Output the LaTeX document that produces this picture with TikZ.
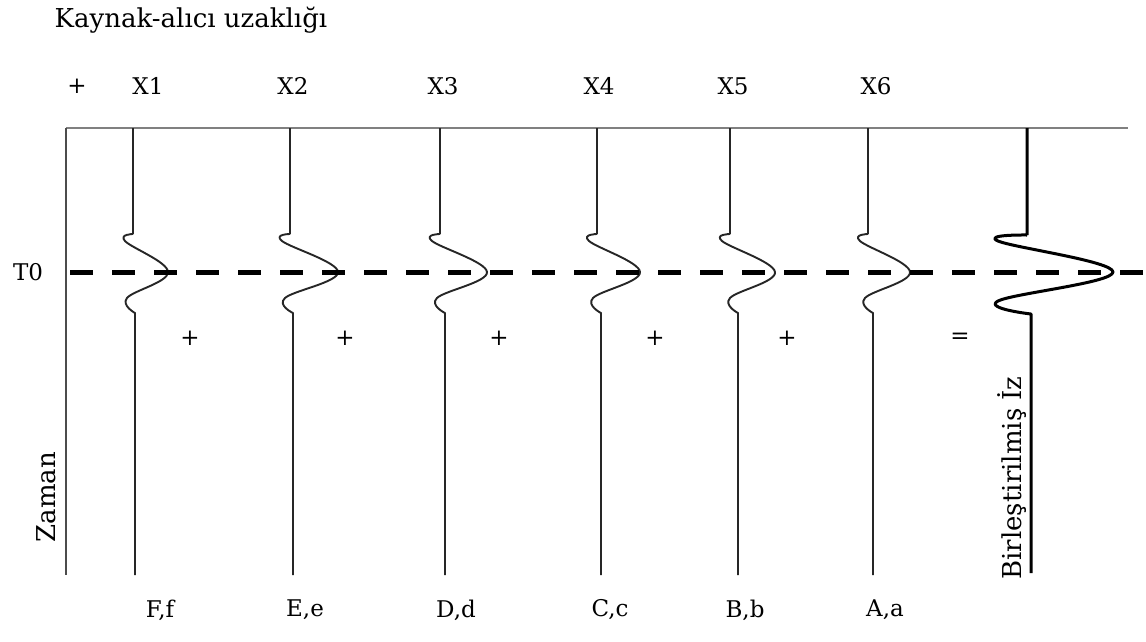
\documentclass[tikz,border=0pt]{standalone}
\usepackage{fontspec}
\setmainfont{DejaVu Serif}
\begin{document}
\begin{tikzpicture}[x=1pt,y=-1pt,
  lbl/.style={inner sep=0pt, font=\fontsize{23}{26}\selectfont},
  rlbl/.style={inner sep=0pt, rotate=90, font=\fontsize{26}{29}\selectfont},
  ttl/.style={inner sep=0pt, font=\fontsize{26}{29}\selectfont},
  trace/.style={line width=1.9pt, draw=black!85, line join=round},
  sumtrace/.style={line width=3pt, draw=black, line join=round},
  axis/.style={line width=2.2pt, draw=black!50},
  taxis/.style={line width=1.9pt, draw=black!70},
  t0line/.style={line width=5pt, draw=black, dash pattern=on 23pt off 19pt}]
\useasboundingbox (0,0) rectangle (1146,641);
\fill[white] (0,0) rectangle (1146,641);
% title and labels
\node[ttl] (title) at (191,20) {Kaynak-alıcı uzaklığı};
\node[lbl] (plus0) at (77,86) {+};
\node[lbl] (x1) at (148,86) {X1};
\node[lbl] (x2) at (293,86) {X2};
\node[lbl] (x3) at (443,86) {X3};
\node[lbl] (x4) at (599,86) {X4};
\node[lbl] (x5) at (733,86) {X5};
\node[lbl] (x6) at (876,86) {X6};
\node[lbl] (t0) at (28,272) {T0};
\node[rlbl] (zaman) at (46,497) {Zaman};
\node[rlbl] (birl) at (1012,478) {Birleştirilmiş İz};
% plus signs between traces
\foreach \px/\nm in {190/p1,345/p2,499/p3,655/p4,787/p5}
  \node[lbl] (\nm) at (\px,338) {+};
\node[lbl] (eq) at (960,338) {=};
% bottom labels
\node[lbl] (ff) at (160,610) {F,f};
\node[lbl] (ee) at (305,610) {E,e};
\node[lbl] (dd) at (456,610) {D,d};
\node[lbl] (cc) at (610,610) {C,c};
\node[lbl] (bb) at (745,610) {B,b};
\node[lbl] (aa) at (885,610) {A,a};
% axes
\coordinate (o) at (66,128);
\coordinate (e) at (1128,128);
\coordinate (ob) at (66,575);
\draw[axis] (o) -- (e);
\draw[taxis] (o) -- (ob);
% traces: top x / bottom x / peak x
\foreach \xt/\xb/\xp in {133/135/168, 290/293/338, 440/445/487, 597/601/640, 730/738/775, 868/873/910}{
  \draw[trace] (\xt,128) -- (\xt,234)
    plot[smooth, tension=0.65] coordinates {(\xt,234) (\xt-8,241) (\xp,272) (\xb-8,298) (\xb,313)}
    -- (\xb,575);
}
% combined trace
\draw[sumtrace] (1027,128) -- (1027,235)
  plot[smooth, tension=0.65] coordinates {(1027,235) (998,241) (1113,272) (998,301) (1031,314)}
  -- (1031,573);
% T0 dashed line
\draw[t0line] (70,272) -- (1146,272);
\end{tikzpicture}
\end{document}
